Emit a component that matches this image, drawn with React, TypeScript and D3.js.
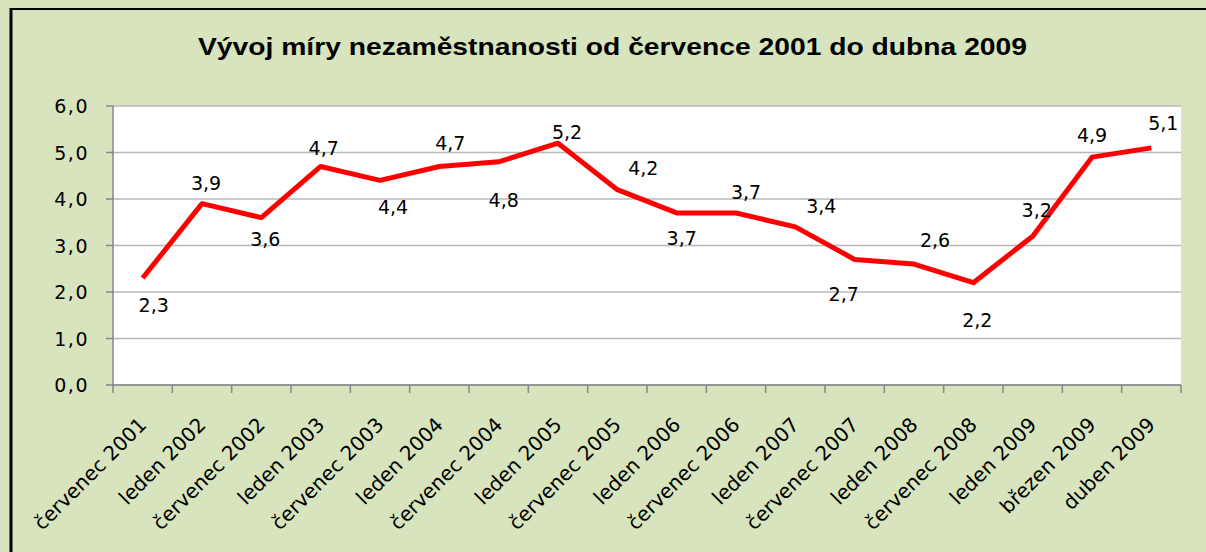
import React from "react";
import * as d3 from "d3";

const TITLE = "Vývoj míry nezaměstnanosti od července 2001 do dubna 2009";
const categories = [
  "červenec 2001", "leden 2002", "červenec 2002", "leden 2003", "červenec 2003",
  "leden 2004", "červenec 2004", "leden 2005", "červenec 2005", "leden 2006",
  "červenec 2006", "leden 2007", "červenec 2007", "leden 2008", "červenec 2008",
  "leden 2009", "březen 2009", "duben 2009",
];
const values = [2.3, 3.9, 3.6, 4.7, 4.4, 4.7, 4.8, 5.2, 4.2, 3.7, 3.7, 3.4, 2.7, 2.6, 2.2, 3.2, 4.9, 5.1];
const yTicks = [0, 1, 2, 3, 4, 5, 6];
// manual data-label placement (offset from point, px)
const labelDx = [11, 4, 4, 3, 13, 11, 5, 9, 26, 5, 10, 26, -11, 21, 4, 4, 0, 12];
const labelDy = [27, -21, 21, -18, 27, -23, 38, -11, -22, 25, -21, -21, 35, -24, 37, -26, -22, -25];

const W = 1206, H = 552;
const M = { left: 113, right: 1181, top: 106, bottom: 385 };

export default function App() {
  const x = d3.scaleBand<string>().domain(categories).range([M.left, M.right]).padding(0);
  const y = d3.scaleLinear().domain([0, 6]).range([M.bottom, M.top]);
  const fmt = (v: number) => v.toFixed(1).replace(".", ",");
  const cx = (i: number) => (x(categories[i]) as number) + x.bandwidth() / 2;
  const line = d3.line<number>().x((_, i) => cx(i)).y((d) => y(d));
  const bounds = categories.map((c) => x(c) as number).concat([M.right]);

  return (
    <svg width={W} height={H} style={{ position: "absolute", left: 0, top: 0 }}>
      <rect x={0} y={0} width={W} height={H} fill="#d7e4bd" />
      <line x1={11} x2={11} y1={8} y2={H} stroke="#000" strokeWidth={3} />
      <line x1={10} x2={W} y1={9} y2={9} stroke="#000" strokeWidth={2} />
      <text
        x={612.5}
        y={55}
        textAnchor="middle"
        fontFamily="'Liberation Sans', Arial, sans-serif"
        fontWeight="bold"
        fontSize={24}
        textLength={829}
        lengthAdjust="spacingAndGlyphs"
        fill="#000"
      >
        {TITLE}
      </text>
      <rect x={M.left} y={M.top} width={M.right - M.left} height={M.bottom - M.top} fill="#fff" />
      {yTicks.map((t) => (
        <g key={t}>
          <line x1={M.left} x2={M.right} y1={y(t)} y2={y(t)} stroke="#b8b8b8" strokeWidth={1.5} />
          <line x1={M.left - 7} x2={M.left} y1={y(t)} y2={y(t)} stroke="#868686" strokeWidth={1.5} />
          <text
            x={89}
            y={y(t)}
            textAnchor="end"
            dominantBaseline="central"
            fontFamily="'DejaVu Sans', sans-serif"
            fontSize={19}
            letterSpacing={1.5}
            fill="#000"
          >
            {fmt(t)}
          </text>
        </g>
      ))}
      <line x1={M.left} x2={M.left} y1={M.top} y2={M.bottom} stroke="#868686" strokeWidth={1.5} />
      <line x1={M.left} x2={M.right} y1={M.bottom} y2={M.bottom} stroke="#868686" strokeWidth={1.5} />
      {bounds.map((b, i) => (
        <line key={i} x1={b} x2={b} y1={M.bottom} y2={M.bottom + 8} stroke="#868686" strokeWidth={1.5} />
      ))}
      {categories.map((c, i) => (
        <text
          key={c}
          transform={`translate(${cx(i) + 5},${M.bottom + 41}) rotate(-45)`}
          textAnchor="end"
          fontFamily="'DejaVu Sans', sans-serif"
          fontSize={20}
          fill="#000"
        >
          {c}
        </text>
      ))}
      <path d={line(values) || ""} fill="none" stroke="#ff0000" strokeWidth={5} strokeLinejoin="round" />
      {values.map((v, i) => (
        <text
          key={i}
          x={cx(i) + labelDx[i]}
          y={y(v) + labelDy[i]}
          textAnchor="middle"
          dominantBaseline="central"
          fontFamily="'DejaVu Sans', sans-serif"
          fontSize={19}
          fill="#000"
        >
          {fmt(v)}
        </text>
      ))}
    </svg>
  );
}
